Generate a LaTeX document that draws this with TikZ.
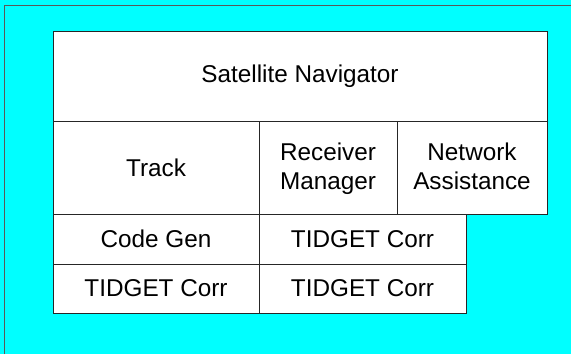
\documentclass[tikz,border=0pt]{standalone}
\usepackage{fontspec}
\setmainfont{Liberation Sans}
\definecolor{bgcyan}{RGB}{0,255,255}
\begin{document}
\begin{tikzpicture}[x=1pt,y=-1pt,
  blk/.style={draw=black!85,line width=0.9pt,fill=white,inner sep=0pt,outer sep=0pt,
    align=center,font=\fontsize{24.3}{28.5}\selectfont}]
\useasboundingbox (0,0) rectangle (571,354);
\fill[bgcyan] (0,0) rectangle (571,354);
\coordinate (fa) at (4.5,354);
\coordinate (fb) at (4.5,5);
\coordinate (fc) at (571,5);
\draw[gray!70!black,line width=1pt] (fa) -- (fb) -- (fc);
\node[blk,minimum width=494pt,minimum height=90pt] (sn) at (300,76) {Satellite Navigator};
\node[blk,minimum width=206pt,minimum height=93pt] (tr) at (156,167.5) {Track};
\node[blk,minimum width=138pt,minimum height=93pt] (rm) at (328,167.5) {\rule{0pt}{24pt}Receiver\\\strut Manager};
\node[blk,minimum width=150pt,minimum height=93pt] (na) at (472,167.5) {\rule{0pt}{24pt}Network\\\strut Assistance};
\node[blk,minimum width=206pt,minimum height=50pt] (cg) at (156,239) {Code Gen};
\node[blk,minimum width=207pt,minimum height=50pt] (t1) at (362.5,239) {TIDGET Corr};
\node[blk,minimum width=206pt,minimum height=49pt] (t2) at (156,288.5) {TIDGET Corr};
\node[blk,minimum width=207pt,minimum height=49pt] (t3) at (362.5,288.5) {TIDGET Corr};
\end{tikzpicture}
\end{document}
